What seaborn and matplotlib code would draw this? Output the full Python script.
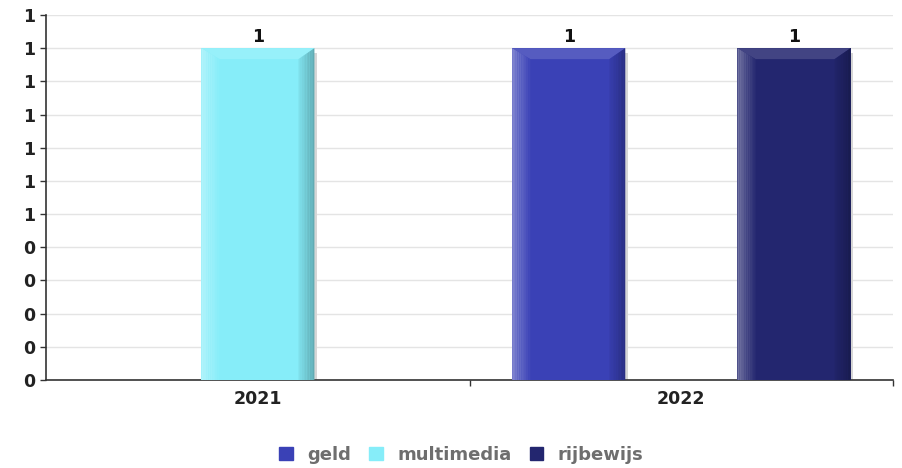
import matplotlib
matplotlib.use("Agg")
import matplotlib.pyplot as plt
import matplotlib.colors as mcolors
from matplotlib.patches import Rectangle, Polygon
import seaborn as sns
import pandas as pd
import numpy as np

categories = ["2021", "2022"]
series = ["geld", "multimedia", "rijbewijs"]
colors = {"geld": "#3a41b6", "multimedia": "#86edf9", "rijbewijs": "#23266f"}
values = {
    "geld": [None, 1],
    "multimedia": [1, None],
    "rijbewijs": [None, 1],
}
y_ticks = [0, 0.1, 0.2, 0.3, 0.4, 0.5, 0.6, 0.7, 0.8, 0.9, 1.0, 1.1]

# layout: bars present in a group are centred in that group
spacing = 0.532
rows = []
for ci, cat in enumerate(categories):
    present = [s for s in series if values[s][ci] is not None]
    n = len(present)
    for k, s in enumerate(present):
        rows.append({"pos": ci + (k - (n - 1) / 2) * spacing, "value": values[s][ci],
                     "series": s, "cat": cat})
df = pd.DataFrame(rows)

sns.set_theme(style="white")
plt.rcParams["font.family"] = ["DejaVu Sans"]

fig = plt.figure(figsize=(9.03, 4.68), dpi=100)
ax = fig.add_axes([0.051, 0.188, 0.938, 0.780])

bar_w = 0.267
native = np.min(np.diff(np.sort(df["pos"].unique())))
sns.barplot(data=df, x="pos", y="value", hue="series", hue_order=series,
            palette=colors, native_scale=True, dodge=False,
            width=bar_w / native, ax=ax, legend=False, saturation=1,
            linewidth=0, zorder=3)

ax.set_xlim(-0.5, 1.5)
ax.set_ylim(0, 1.1)


def mix(c, t, f):
    return tuple(np.clip(np.array(c) * (1 - f) + np.array(t) * f, 0, 1))


# bevel effect derived from each bar's geometry
for p in list(ax.patches):
    x0, y0 = p.get_x(), p.get_y()
    w, h = p.get_width(), p.get_height()
    if h <= 0:
        continue
    p.set_clip_on(False)
    base = mcolors.to_rgb(p.get_facecolor())
    y1 = y0 + h
    lw_ = w * 0.16
    rw_ = w * 0.14
    th = 0.033
    # shadow
    ax.add_patch(Rectangle((x0 + w, y0), w * 0.025, h * 0.985, color="#d6d6d6",
                           zorder=2.5, lw=0, clip_on=False))
    # top bevel
    ax.add_patch(Polygon([(x0, y1), (x0 + w, y1), (x0 + w - rw_, y1 - th), (x0 + lw_, y1 - th)],
                         closed=True, color=mix(base, (1, 1, 1), 0.14), zorder=3.1, lw=0))
    # left bevel gradient
    nst = 10
    for i in range(nst):
        f = 0.35 * (1 - i / nst)
        xa = x0 + lw_ * i / nst
        ax.add_patch(Polygon([(xa, y0), (xa + lw_ / nst * 1.05, y0),
                              (xa + lw_ / nst * 1.05, y1 - th * (i + 1) / nst),
                              (xa, y1 - th * i / nst)],
                             closed=True, color=mix(base, (1, 1, 1), f), zorder=3.2, lw=0,
                             clip_on=False))
    # right bevel gradient
    for i in range(nst):
        f = 0.06 + 0.24 * (i / nst)
        xa = x0 + w - rw_ + rw_ * i / nst
        ax.add_patch(Polygon([(xa, y0), (xa + rw_ / nst * 1.05, y0),
                              (xa + rw_ / nst * 1.05, y1 - th * (nst - i - 1) / nst),
                              (xa, y1 - th * (nst - i) / nst)],
                             closed=True, color=mix(base, (0, 0, 0), f), zorder=3.2, lw=0,
                             clip_on=False))
    ax.text(x0 + w / 2, y1 + 0.006, f"{int(np.floor(h + 0.5))}",
            ha="center", va="bottom", fontsize=12.5, fontweight="bold", color="#111111", zorder=5)

# axes styling
ax.set_yticks(y_ticks)
ax.set_yticklabels([f"{int(np.floor(v + 0.5 + 1e-9))}" for v in y_ticks],
                   fontsize=12.5, fontweight="bold", color="#222222")
ax.yaxis.grid(True, color="#e4e4e4", linewidth=1, zorder=0)
ax.set_axisbelow(True)
ax.tick_params(axis="y", length=4, width=1, color="#333333", left=True, pad=4)

ax.set_xticks([0, 1])
ax.set_xticklabels(categories, fontsize=12.5, fontweight="bold", color="#222222")
ax.set_xticks([0.5, 1.5], minor=True)
ax.tick_params(axis="x", which="major", length=0, pad=7)
ax.tick_params(axis="x", which="minor", length=4, width=1, color="#333333", bottom=True)
ax.set_xlabel("")
ax.set_ylabel("")

for s in ["top", "right"]:
    ax.spines[s].set_visible(False)
for s in ["left", "bottom"]:
    ax.spines[s].set_color("#333333")
    ax.spines[s].set_linewidth(1.2)

handles = [Rectangle((0, 0), 1, 1, color=colors[s]) for s in series]
leg = fig.legend(handles, series, loc="center", bbox_to_anchor=(0.511, 0.028), ncol=3,
                 frameon=False, handlelength=0.75, handleheight=0.75, handletextpad=0.8,
                 columnspacing=1.0, prop={"weight": "bold", "size": 13})
for t in leg.get_texts():
    t.set_color("#6e6e6e")

fig.savefig("out.png", dpi=100)
